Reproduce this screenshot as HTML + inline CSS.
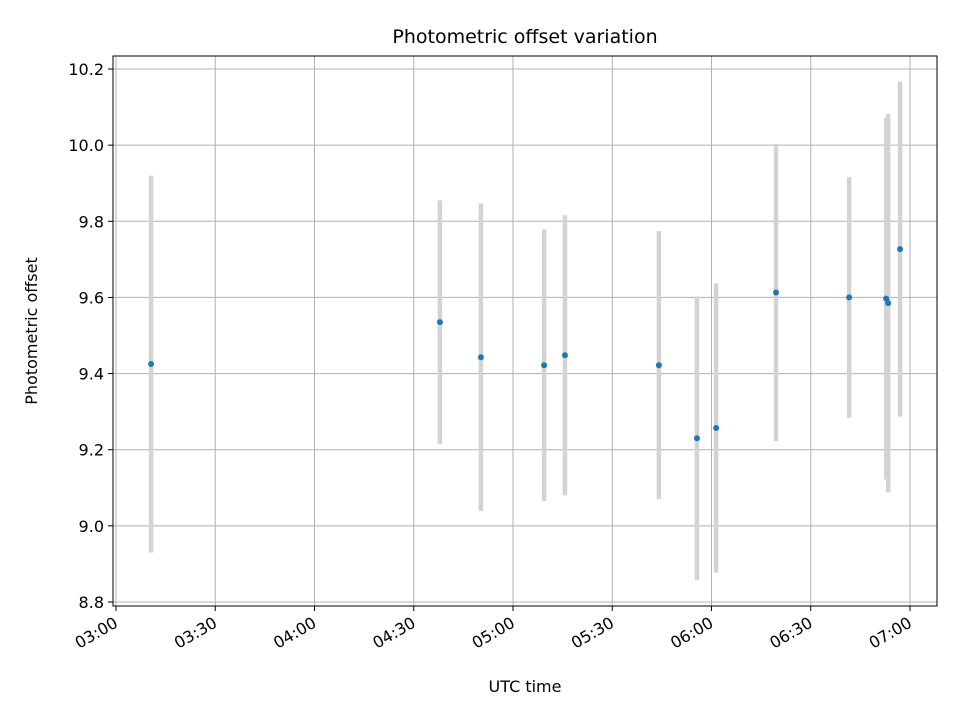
<!DOCTYPE html>
<html><head><meta charset="utf-8"><style>
body{margin:0;background:#fff;}
svg text{font-family:"DejaVu Sans","Liberation Sans",sans-serif;}
</style></head><body>
<svg id="chart" width="960" height="720" xmlns="http://www.w3.org/2000/svg">
<rect width="960" height="720" fill="#fff"/>
<text x="525" y="43" font-size="19" text-anchor="middle">Photometric offset variation</text>
<g id="grid"></g><g id="bars"></g><g id="pts"></g><g id="ticks"></g>
<rect x="113" y="56" width="824" height="550" fill="none" stroke="#000" stroke-width="1"/>
<text x="525" y="692" font-size="16" text-anchor="middle">UTC time</text>
<text transform="translate(37,331) rotate(-90)" font-size="16" text-anchor="middle">Photometric offset</text>
</svg>
<script>
// minutes after 03:00
const times=[10.6,97.9,110.3,129.4,135.7,164.1,175.6,181.4,199.5,221.6,232.8,233.4,237.0];
const offsets=[9.425,9.535,9.443,9.422,9.448,9.422,9.230,9.257,9.613,9.600,9.597,9.585,9.727];
const errors=[0.495,0.32,0.404,0.357,0.368,0.352,0.372,0.38,0.39,0.316,0.475,0.497,0.44];
const yTicks=[8.8,9.0,9.2,9.4,9.6,9.8,10.0,10.2];
const xTicks=[0,30,60,90,120,150,180,210,240];
const xTickLabels=["03:00","03:30","04:00","04:30","05:00","05:30","06:00","06:30","07:00"];
const NS="http://www.w3.org/2000/svg";
const X=m=>116+m*(794/240);
const Y=v=>69+(10.2-v)*(533/1.4);
function mk(p,tag,at){const e=document.createElementNS(NS,tag);for(const k in at)e.setAttribute(k,at[k]);document.getElementById(p).appendChild(e);return e;}
yTicks.forEach(v=>{
  const g=mk('grid','line',{x1:113,x2:937,y1:Y(v),y2:Y(v),stroke:'#b0b0b0','stroke-width':1});
  
  
  mk('ticks','line',{x1:108,x2:113,y1:Y(v),y2:Y(v),stroke:'#000'});
  const t=mk('ticks','text',{x:104,y:Y(v)+6,'font-size':16,'text-anchor':'end'});
  t.textContent=v.toFixed(1);
  
  
});
xTicks.forEach((m,i)=>{
  const g=mk('grid','line',{x1:X(m),x2:X(m),y1:56,y2:606,stroke:'#b0b0b0','stroke-width':1});
  
  
  mk('ticks','line',{x1:X(m),x2:X(m),y1:606,y2:611,stroke:'#000'});
  const t=mk('ticks','text',{x:X(m)+3,y:626,'font-size':16,'text-anchor':'end',transform:`rotate(-30 ${X(m)+3} 626)`});
  t.textContent=xTickLabels[i];
  
  
});
times.forEach((m,i)=>{
  const b=mk('bars','line',{x1:X(m),x2:X(m),y1:Y(offsets[i]+errors[i]),y2:Y(offsets[i]-errors[i]),stroke:'#d3d3d3','stroke-width':4.5});
  
  
  const p=mk('pts','circle',{cx:X(m),cy:Y(offsets[i]),r:3,fill:'#1f77b4'});
  
  
});
</script>
</body></html>
